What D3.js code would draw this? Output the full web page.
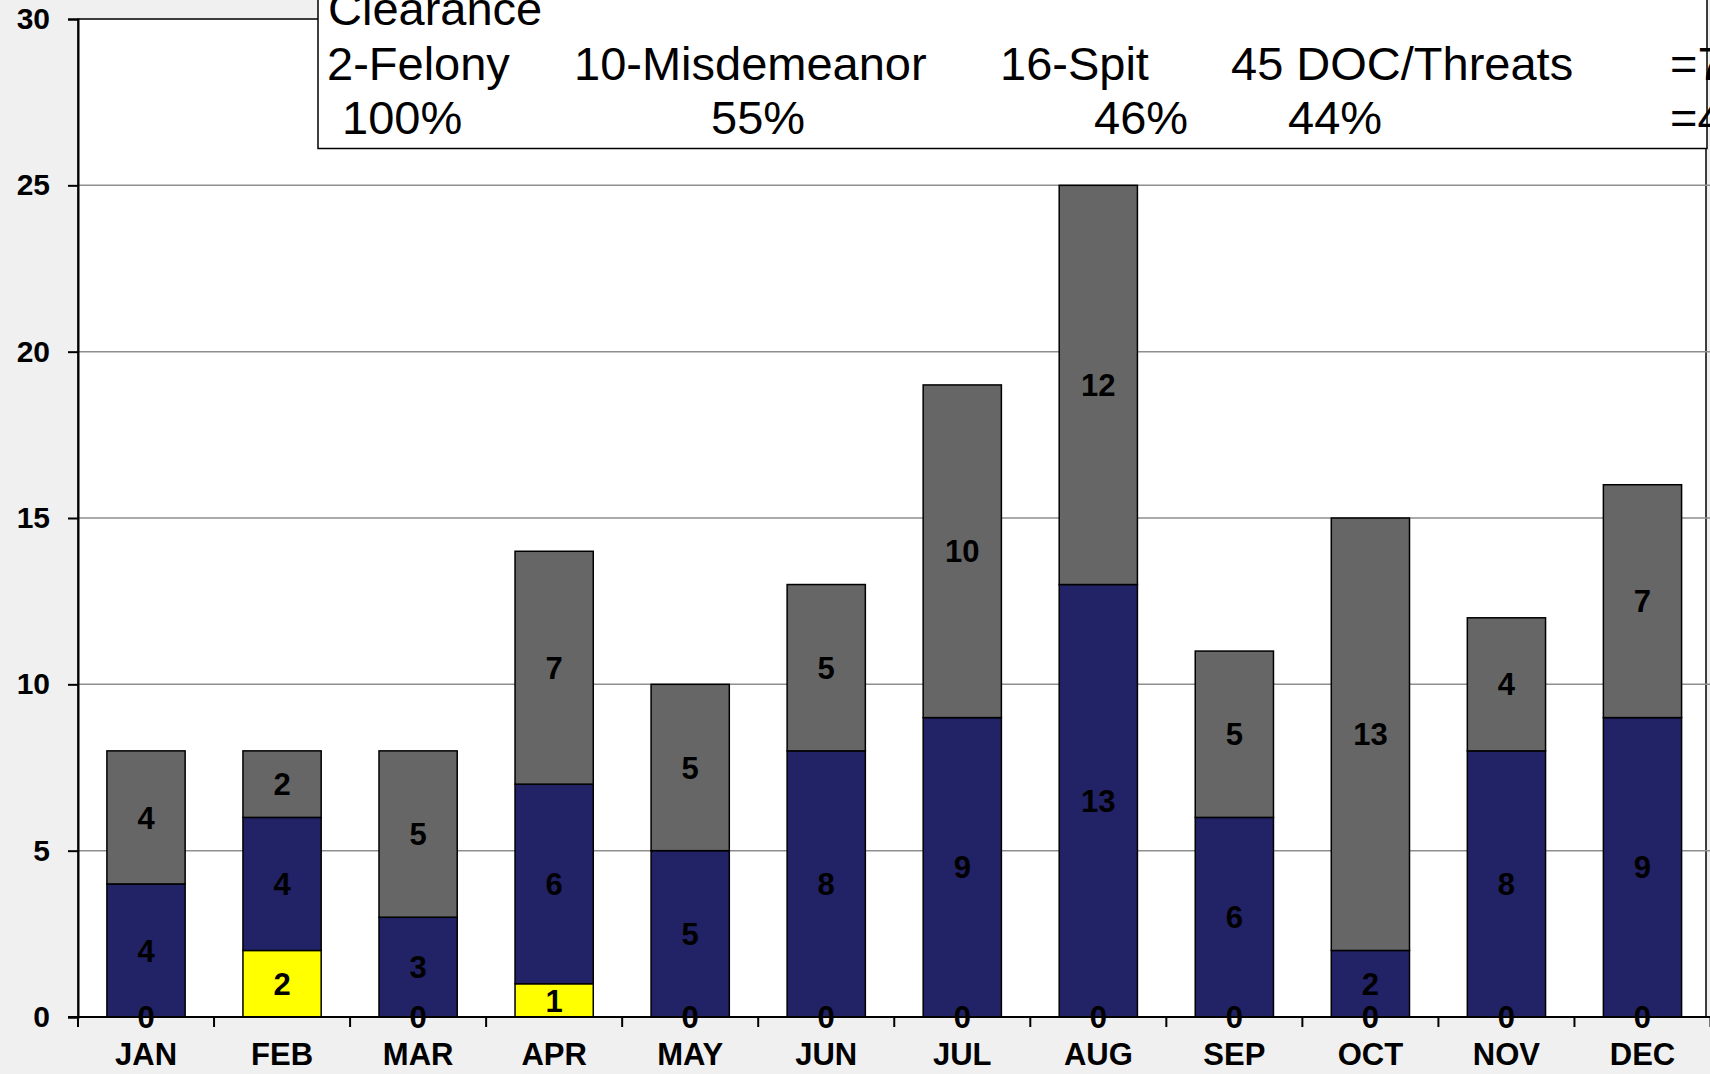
<!DOCTYPE html>
<html>
<head>
<meta charset="utf-8">
<script src="https://cdn.jsdelivr.net/npm/d3@7"></script>
<style>
  html, body { margin: 0; padding: 0; background: #f0f0f0; overflow: hidden; }
  svg { display: block; font-family: 'Liberation Sans', Arial, sans-serif; }
</style>
</head>
<body>
<svg id="chart" width="1710" height="1074"></svg>
<script>
// chart values
const months = ['JAN', 'FEB', 'MAR', 'APR', 'MAY', 'JUN', 'JUL', 'AUG', 'SEP', 'OCT', 'NOV', 'DEC'];
const yellowValues = [0, 2, 0, 1, 0, 0, 0, 0, 0, 0, 0, 0];
const navyValues = [4, 4, 3, 6, 5, 8, 9, 13, 6, 2, 8, 9];
const grayValues = [4, 2, 5, 7, 5, 5, 10, 12, 5, 13, 4, 7];
const yTicks = [0, 5, 10, 15, 20, 25, 30];

// text box at the top of the chart
const boxTitle = 'Clearance';
const boxRow1 = ['2-Felony', '10-Misdemeanor', '16-Spit', '45 DOC/Threats', '=7'];
const boxRow2 = ['100%', '55%', '46%', '44%', '=4'];

const width = 1710;
const height = 1074;
const margin = { top: 19, right: -0.5, bottom: 57, left: 78 };
const plotRight = 1706;

const svg = d3.select('#chart');

const keys = ['yellow', 'navy', 'gray'];
const colors = { yellow: '#ffff00', navy: '#222266', gray: '#666666' };

const table = months.map((m, i) => ({
  month: m,
  yellow: yellowValues[i],
  navy: navyValues[i],
  gray: grayValues[i],
}));

const stacked = d3.stack().keys(keys)(table);

const xScale = d3
  .scaleBand()
  .domain(months)
  .range([margin.left, width - margin.right])
  .paddingInner(0.425)
  .paddingOuter(0.2125);

const yScale = d3
  .scaleLinear()
  .domain([0, 30])
  .range([height - margin.bottom, margin.top]);

const plotBottom = height - margin.bottom;

// plot background
svg
  .append('rect')
  .attr('x', margin.left)
  .attr('y', margin.top)
  .attr('width', plotRight - margin.left)
  .attr('height', plotBottom - margin.top)
  .attr('fill', '#ffffff')
  .attr('stroke', '#000')
  .attr('stroke-width', 1.5);

// gridlines
svg
  .append('g')
  .selectAll('line')
  .data(yTicks.filter((t) => t > 0 && t < 30))
  .enter()
  .append('line')
  .attr('x1', margin.left)
  .attr('x2', width)
  .attr('y1', (d) => yScale(d))
  .attr('y2', (d) => yScale(d))
  .attr('stroke', '#8e8e8e')
  .attr('stroke-width', 1.5);

// bars
const layers = svg
  .append('g')
  .selectAll('g')
  .data(stacked)
  .enter()
  .append('g')
  .attr('fill', (d) => colors[d.key]);

layers
  .selectAll('rect')
  .data((d) => d.filter((p) => p[1] - p[0] > 0))
  .enter()
  .append('rect')
  .attr('x', (d) => xScale(d.data.month))
  .attr('y', (d) => yScale(d[1]))
  .attr('width', xScale.bandwidth())
  .attr('height', (d) => yScale(d[0]) - yScale(d[1]))
  .attr('stroke', '#000')
  .attr('stroke-width', 1.5);

// y axis
const yAxis = d3.axisLeft(yScale).tickValues(yTicks).tickSize(10).tickPadding(18);
const gy = svg
  .append('g')
  .attr('transform', `translate(${margin.left},0)`)
  .call(yAxis);
gy.select('.domain').attr('stroke', '#000').attr('stroke-width', 2);
gy.selectAll('.tick line').attr('stroke', '#000').attr('stroke-width', 2);
gy.selectAll('.tick text')
  .attr('font-family', "'Liberation Sans', Arial, sans-serif")
  .attr('font-size', 30)
  .attr('font-weight', 'bold')
  .attr('fill', '#000');

// x axis: labels at band centres, ticks at band edges
const xAxis = d3.axisBottom(xScale).tickSize(0).tickPadding(26);
const gx = svg
  .append('g')
  .attr('transform', `translate(0,${plotBottom})`)
  .call(xAxis);
gx.select('.domain').remove();
gx.selectAll('.tick text')
  .attr('font-family', "'Liberation Sans', Arial, sans-serif")
  .attr('font-size', 31)
  .attr('font-weight', 'bold')
  .attr('fill', '#000');

svg
  .append('line')
  .attr('x1', margin.left - 10)
  .attr('x2', width)
  .attr('y1', plotBottom)
  .attr('y2', plotBottom)
  .attr('stroke', '#000')
  .attr('stroke-width', 2);

const step = xScale.step();
const edges = months.map((m) => xScale(m) - xScale.paddingOuter() * step);
edges.push(width - margin.right);
svg
  .append('g')
  .selectAll('line')
  .data(edges)
  .enter()
  .append('line')
  .attr('x1', (d) => d)
  .attr('x2', (d) => d)
  .attr('y1', plotBottom)
  .attr('y2', plotBottom + 10)
  .attr('stroke', '#000')
  .attr('stroke-width', 2);

// value labels in the middle of each segment
const labelData = [];
stacked.forEach((layer) => {
  layer.forEach((p) => {
    labelData.push({ month: p.data.month, mid: (p[0] + p[1]) / 2, value: p[1] - p[0] });
  });
});

svg
  .append('g')
  .selectAll('text')
  .data(labelData)
  .enter()
  .append('text')
  .attr('x', (d) => xScale(d.month) + xScale.bandwidth() / 2)
  .attr('y', (d) => yScale(d.mid))
  .attr('dy', '0.36em')
  .attr('text-anchor', 'middle')
  .attr('font-size', 31)
  .attr('font-weight', 'bold')
  .attr('fill', '#000')
  .text((d) => d.value);

// text box
svg
  .append('rect')
  .attr('x', 318)
  .attr('y', -10)
  .attr('width', 1389)
  .attr('height', 158.5)
  .attr('fill', '#ffffff')
  .attr('stroke', '#000')
  .attr('stroke-width', 1.5);

const box = svg.append('g').attr('font-size', 47).attr('fill', '#000');

box.append('text').attr('x', 328).attr('y', 25).text(boxTitle);

const row1X = [327, 574, 1000, 1231, 1670];
const row2X = [342, 711, 1094, 1288, 1670];

box
  .selectAll('.row1')
  .data(boxRow1)
  .enter()
  .append('text')
  .attr('class', 'row1')
  .attr('x', (d, i) => row1X[i])
  .attr('y', 80)
  .text((d) => d);

box
  .selectAll('.row2')
  .data(boxRow2)
  .enter()
  .append('text')
  .attr('class', 'row2')
  .attr('x', (d, i) => row2X[i])
  .attr('y', 134)
  .text((d) => d);
</script>
</body>
</html>
